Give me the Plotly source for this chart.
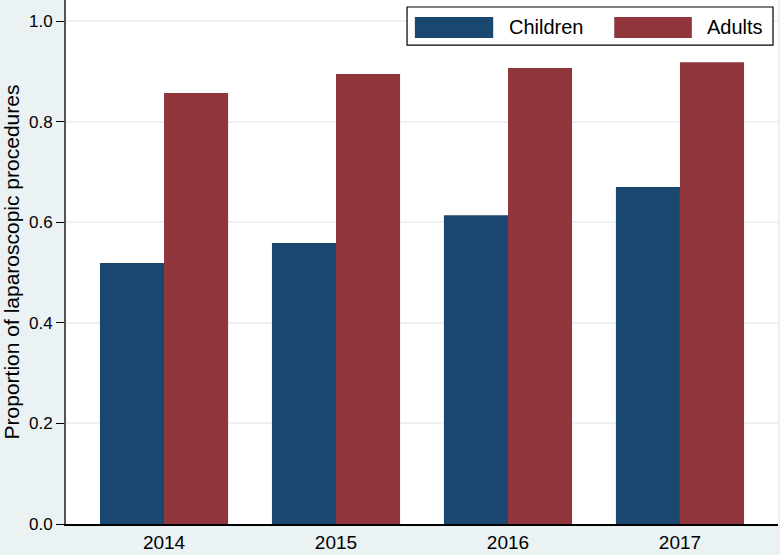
import plotly.graph_objects as go

years = ["2014", "2015", "2016", "2017"]
children = [0.519, 0.559, 0.614, 0.670]
adults = [0.857, 0.895, 0.907, 0.918]
y_ticks = [0.0, 0.2, 0.4, 0.6, 0.8, 1.0]
y_tick_labels = ["0.0", "0.2", "0.4", "0.6", "0.8", "1.0"]

navy = "#1a476f"
maroon = "#90353b"
bg = "#eaf2f3"
font = "Liberation Sans, Arial, sans-serif"

fig = go.Figure()
fig.add_bar(x=years, y=children, name="Children", marker=dict(color=navy, line=dict(width=0)))
fig.add_bar(x=years, y=adults, name="Adults", marker=dict(color=maroon, line=dict(width=0)))

fig.update_layout(
    width=780, height=555,
    margin=dict(l=66, r=2, t=0, b=31, autoexpand=False),
    paper_bgcolor=bg, plot_bgcolor="white",
    barmode="group", bargap=0.255, bargroupgap=0,
    showlegend=False,
    font=dict(family=font, size=16, color="#000"),
)
fig.update_xaxes(
    type="category", range=[-0.57, 3.57],
    showline=True, linecolor="#000", linewidth=1.5,
    ticks="", showgrid=False, tickfont=dict(size=19), automargin=False,
)
fig.update_yaxes(
    range=[0, 1.042], tickvals=y_ticks, ticktext=y_tick_labels,
    showline=True, linecolor="#555", linewidth=2,
    ticks="outside", ticklen=8, tickcolor="#000", tickwidth=1,
    showgrid=True, gridcolor="#eef2f2", gridwidth=1.5, zeroline=False,
    title=dict(text="Proportion of laparoscopic procedures", font=dict(size=21), standoff=5),
    tickfont=dict(size=17), automargin=False,
)

# manual legend (wide swatches as in the reference)
fig.add_shape(type="rect", xref="paper", yref="paper", x0=0.479, x1=0.993, y0=0.914, y1=0.9866,
              line=dict(color="#000", width=1.2), fillcolor="white", layer="above")
for name, color, x0, x1, tx in [("Children", navy, 0.490, 0.600, 0.619),
                                  ("Adults", maroon, 0.770, 0.879, 0.897)]:
    fig.add_shape(type="rect", xref="paper", yref="paper", x0=x0, x1=x1, y0=0.9274, y1=0.9676,
                  line=dict(width=0), fillcolor=color, layer="above")
    fig.add_annotation(xref="paper", yref="paper", x=tx, y=0.949, text=name, showarrow=False,
                       xanchor="left", yanchor="middle", font=dict(size=20, color="#000"))

fig.write_html("out.html", config={"displayModeBar": False},
               post_script="document.body.style.margin='0';document.body.style.overflow='hidden';")
